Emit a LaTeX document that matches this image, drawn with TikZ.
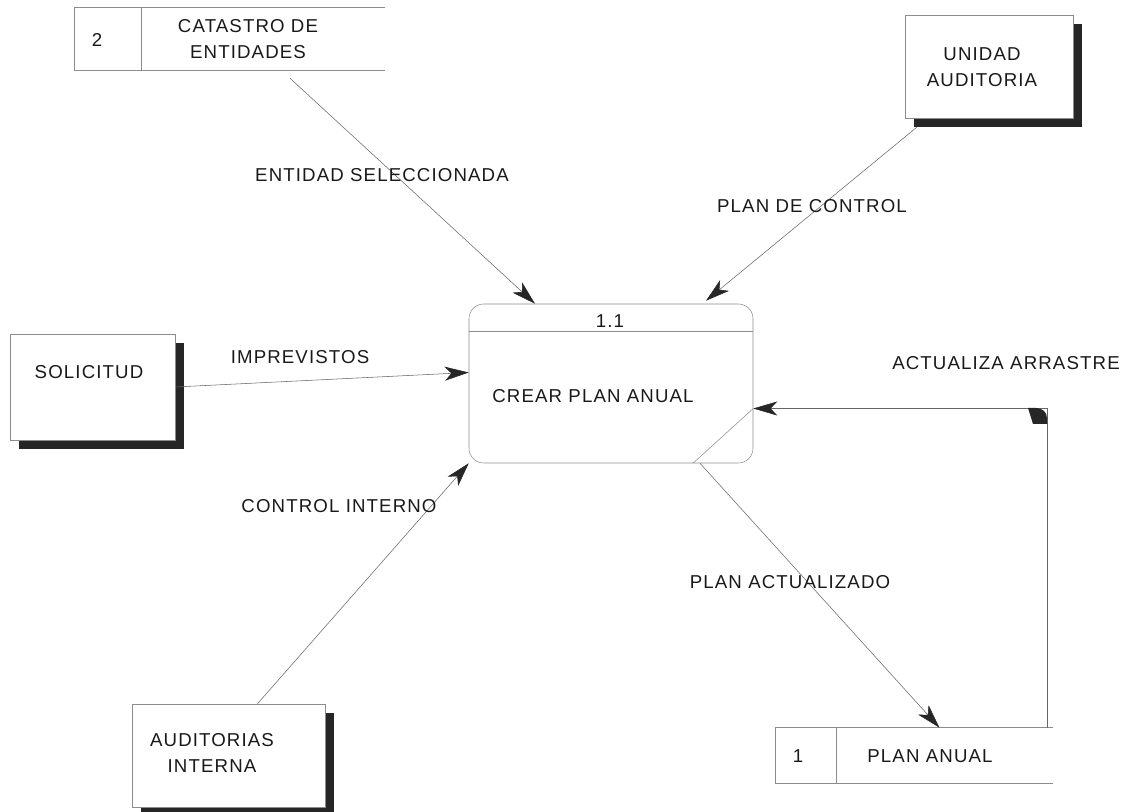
\documentclass[tikz,border=0pt]{standalone}
\usepackage{fontspec}
\setmainfont{Liberation Sans}[LetterSpace=6]
\usetikzlibrary{arrows.meta,calc,shadows}

\begin{document}
\begin{tikzpicture}[x=0.75pt, y=-0.75pt,
    every node/.style={font=\fontsize{14}{19.5}\selectfont, text=black!90},
    entity/.style={draw=black!45, fill=white, minimum width=#1,
        drop shadow={shadow xshift=7pt, shadow yshift=-7pt, opacity=1, fill=black!85}},
    edge line/.style={draw=black!45},
    flow/.style={draw=black!60, -{Stealth[length=18pt,width=10.5pt,inset=5pt,color=black!85]}}]
\useasboundingbox (0,0) rectangle (1133,812);

% external entities
\node[entity=123.75pt, minimum height=79.5pt] (soli) at (92.5,387) {};
\node (solitxt) at (89,372) {SOLICITUD};
\node[entity=126pt, minimum height=77.25pt] (unid) at (989,66.5) {};
\node[align=center] (unidtxt) at (982,67) {UNIDAD\\AUDITORIA};
\node[entity=144.75pt, minimum height=77.25pt] (audi) at (228.5,755.5) {};
\node[align=center] (auditxt) at (212,753) {AUDITORIAS\\INTERNA};

% data stores
\node[minimum width=232.5pt, minimum height=46.5pt] (cat) at (230,39) {};
\draw[edge line] (cat.north east) -- (cat.north west) -- (cat.south west) -- (cat.south east);
\draw[edge line] ($(cat.north west)+(67,0)$) -- ($(cat.south west)+(67,0)$);
\node (catnum) at (97,40) {2};
\node[align=center] (cattxt) at (248,39) {CATASTRO DE\\ENTIDADES};

\node[minimum width=207.75pt, minimum height=41.25pt] (plan) at (914.5,755.5) {};
\draw[edge line] (plan.north east) -- (plan.north west) -- (plan.south west) -- (plan.south east);
\draw[edge line] ($(plan.north west)+(61,0)$) -- ($(plan.south west)+(61,0)$);
\node (plannum) at (798,756) {1};
\node (plantxt) at (930,756) {PLAN ANUAL};

% process
\node[draw=black!45, rounded corners=11pt, minimum width=213pt, minimum height=119.25pt] (proc) at (611,383.5) {};
\draw[edge line] ($(proc.north west)+(0,28)$) -- ($(proc.north east)+(0,28)$);
\draw[edge line] ($(proc.east)+(0,25)$) -- ($(proc.south)+(82,0)$);
\node (procnum) at (610,321) {1.1};
\node (proctxt) at (593,396) {CREAR PLAN ANUAL};

% flows
\draw[flow] ($(cat.south)+(60,8)$) -- ($(proc.north)+(-76,0)$);
\draw[flow] ($(unid.south west)+(12,9)$) -- ($(proc.north)+(95,-3)$);
\draw[flow] (soli.east) -- ($(proc.west)+(0,-11)$);
\draw[flow] ($(audi.north)+(29,0)$) -- (proc.south west);
\draw[flow] ($(proc.south)+(89,0)$) -- ($(plan.north)+(25,0)$);
\draw[flow] ($(plan.north east)+(-6,0)$) |- ($(proc.east)+(0,25)$);
\fill[black!85] (1028,408) -- (1036,408) .. controls (1042,408) and (1047,412) .. (1047,418)
    -- (1047,424) -- (1033,424) -- cycle;

\node (lblent) at (382,175) {ENTIDAD SELECCIONADA};
\node (lblctl) at (812,206) {PLAN DE CONTROL};
\node (lblimp) at (300,357) {IMPREVISTOS};
\node (lblint) at (339,506) {CONTROL INTERNO};
\node (lblact) at (790,582) {PLAN ACTUALIZADO};
\node (lblarr) at (1006,363) {ACTUALIZA ARRASTRE};
\end{tikzpicture}
\end{document}
